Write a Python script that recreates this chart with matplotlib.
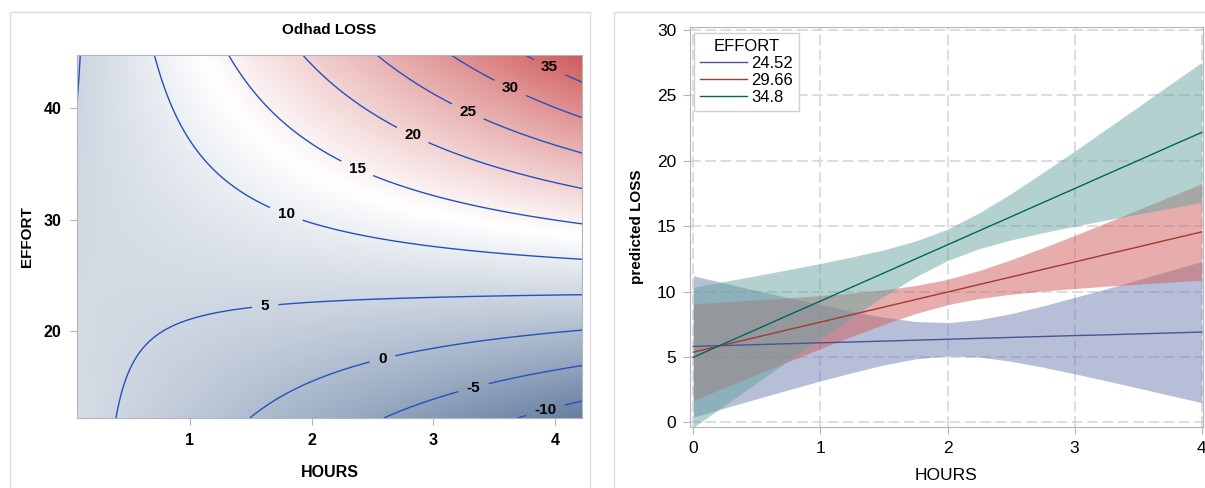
import numpy as np
import matplotlib.pyplot as plt
from matplotlib.colors import LinearSegmentedColormap
from matplotlib.patches import Rectangle

# fitted surface LOSS ~ HOURS | EFFORT, coefficients
coef_intercept = 7.78
coef_hours = -9.325
coef_effort = -0.0807
coef_hours_effort = 0.3915
contour_levels = [-10, -5, 0, 5, 10, 15, 20, 25, 30, 35]
label_spots = [(3.92, 12.9), (3.33, 14.9), (2.58, 17.6), (1.62, 22.25), (1.79, 30.45),
               (2.37, 34.5), (2.83, 37.6), (3.28, 39.7), (3.63, 41.8), (3.95, 43.6)]

# predicted LOSS with confidence bands, one per EFFORT level
hours = [0, 0.25, 0.5, 0.75, 1, 1.25, 1.5, 1.75, 2, 2.25, 2.5, 2.75, 3, 3.25, 3.5, 3.75, 4]
effort_labels = ["24.52", "29.66", "34.8"]

pred_a = [5.80, 5.87, 5.94, 6.01, 6.08, 6.14, 6.21, 6.28, 6.35, 6.42, 6.49, 6.56, 6.63, 6.69, 6.76, 6.83, 6.90]
upper_a = [11.20, 10.64, 10.08, 9.53, 9.00, 8.48, 8.03, 7.71, 7.62, 7.85, 8.31, 8.90, 9.55, 10.21, 10.90, 11.60, 12.30]
lower_a = [0.40, 1.10, 1.80, 2.49, 3.16, 3.80, 4.39, 4.85, 5.08, 4.99, 4.67, 4.22, 3.71, 3.17, 2.62, 2.06, 1.50]

pred_b = [5.36, 5.94, 6.51, 7.09, 7.66, 8.24, 8.81, 9.39, 9.96, 10.54, 11.11, 11.69, 12.26, 12.84, 13.41, 13.99, 14.56]
upper_b = [9.06, 9.21, 9.36, 9.52, 9.69, 9.89, 10.13, 10.46, 10.93, 11.61, 12.43, 13.34, 14.29, 15.27, 16.26, 17.26, 18.26]
lower_b = [1.66, 2.67, 3.66, 4.66, 5.63, 6.59, 7.49, 8.32, 8.99, 9.47, 9.79, 10.04, 10.23, 10.41, 10.56, 10.72, 10.86]

pred_c = [4.97, 6.05, 7.12, 8.20, 9.27, 10.35, 11.42, 12.50, 13.57, 14.65, 15.72, 16.80, 17.87, 18.95, 20.02, 21.10, 22.17]
upper_c = [10.33, 10.78, 11.22, 11.68, 12.14, 12.65, 13.19, 13.87, 14.77, 16.02, 17.49, 19.10, 20.74, 22.43, 24.12, 25.83, 27.53]
lower_c = [-0.39, 1.32, 3.02, 4.72, 6.40, 8.05, 9.65, 11.13, 12.37, 13.28, 13.95, 14.50, 15.00, 15.47, 15.92, 16.37, 16.81]

line_colors = ["#445694", "#A23A2E", "#01665E"]
fill_colors = ["#6F7EB3", "#D05B5B", "#66A5A0"]

font = ["Liberation Sans", "DejaVu Sans"]
plt.rcParams["font.family"] = font
frame_col = "#b4b4bc"

fig = plt.figure(figsize=(12.05, 4.88), dpi=100)

# panel borders
for x0, w in [(10, 580), (614, 600)]:
    fig.patches.append(Rectangle((x0 / 1205, -0.05), w / 1205, 1.05 - 12 / 488,
                                 transform=fig.transFigure, fill=False,
                                 edgecolor="#dcdce2", lw=1.0))

# ---- left: contour of the fitted surface
ax1 = fig.add_axes([77 / 1205, 70 / 488, 505 / 1205, 363 / 488])
xlim1 = (0.075, 4.22)
ylim1 = (12.2, 44.8)
hh, ee = np.meshgrid(np.linspace(*xlim1, 300), np.linspace(*ylim1, 300))
loss = coef_intercept + coef_hours * hh + coef_effort * ee + coef_hours_effort * hh * ee

cmap = LinearSegmentedColormap.from_list("ramp", ["#667FA2", "#ffffff", "#D05B5B"])
ax1.imshow(loss, extent=(*xlim1, *ylim1), origin="lower", aspect="auto",
           cmap=cmap, vmin=loss.min(), vmax=loss.max(), interpolation="bilinear")
cs = ax1.contour(hh, ee, loss, levels=contour_levels, colors="#2550c0",
                 linewidths=1.0, linestyles="solid")
ax1.clabel(cs, fmt="%d", manual=label_spots, inline=True, inline_spacing=9,
           fontsize=11, colors="black")
for t in ax1.texts:
    t.set_fontweight("bold")
    t.set_rotation(0)

ax1.set_xlim(xlim1)
ax1.set_ylim(ylim1)
ax1.set_xticks([1, 2, 3, 4])
ax1.set_yticks([20, 30, 40])
for s in ax1.spines.values():
    s.set_color(frame_col)
ax1.tick_params(colors=frame_col, labelcolor="black", length=5, pad=6, labelsize=11.5)
for lab in ax1.get_xticklabels() + ax1.get_yticklabels():
    lab.set_fontweight("bold")
ax1.set_title("Odhad LOSS", fontweight="bold", fontsize=11, pad=15)
ax1.set_xlabel("HOURS", fontweight="bold", fontsize=11.5, labelpad=12)
ax1.set_ylabel("EFFORT", fontweight="bold", fontsize=11, labelpad=7)

# ---- right: predicted lines with bands
ax2 = fig.add_axes([690 / 1205, 61 / 488, 513 / 1205, 400 / 488])
bands = [(pred_a, upper_a, lower_a), (pred_b, upper_b, lower_b), (pred_c, upper_c, lower_c)]
for (pred, up, lo), fc in zip(bands, fill_colors):
    ax2.fill_between(hours, lo, up, color=fc, alpha=0.5, lw=0, zorder=1)
for (pred, up, lo), lc, name in zip(bands, line_colors, effort_labels):
    ax2.plot(hours, pred, color=lc, lw=1.0, label=name, zorder=3)

ax2.set_xlim(-0.026, 4.01)
ax2.set_ylim(-0.36, 30.23)
ax2.set_xticks([0, 1, 2, 3, 4])
ax2.set_yticks([0, 5, 10, 15, 20, 25, 30])
ax2.grid(True, color="#d2d2da", lw=1.1, linestyle=(0, (7, 3)), zorder=0)
ax2.set_axisbelow(True)
for s in ax2.spines.values():
    s.set_color(frame_col)
ax2.tick_params(colors=frame_col, labelcolor="black", length=5, pad=5, labelsize=12.5)
ax2.set_xlabel("HOURS", fontsize=12.5, labelpad=9)
ax2.set_ylabel("predicted LOSS", fontweight="bold", fontsize=11, labelpad=9)

leg = ax2.legend(title="EFFORT", loc="upper left", bbox_to_anchor=(0.008, 0.985),
                 borderaxespad=0, fancybox=False, framealpha=1, edgecolor="#cfcfd6",
                 handlelength=2.8, handletextpad=0.3, labelspacing=0.12,
                 fontsize=12, title_fontsize=12, borderpad=0.35)

fig.savefig("out.png", dpi=100)
